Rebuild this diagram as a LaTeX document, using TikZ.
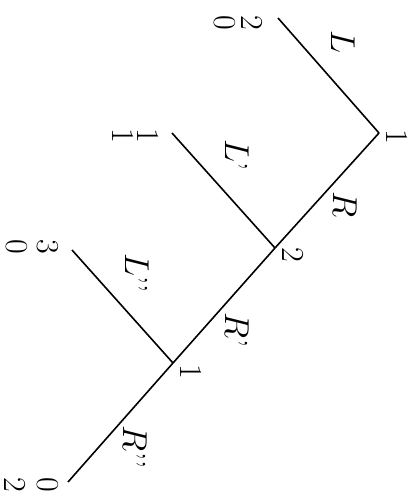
\documentclass[tikz,border=0pt]{standalone}
\usepackage{tikz}
\usetikzlibrary{positioning}

\begin{document}
\begin{tikzpicture}[x=0.5pt, y=-0.5pt, line width=0.8pt]
    \tikzstyle{txt} = [rotate=-90, inner sep=0pt, font=\fontsize{16}{18}\selectfont]
    \tikzstyle{branch} = [draw, line width=0.8pt]

    \useasboundingbox (0,0) rectangle (412,494);

    % decision points and leaves
    \coordinate (first) at (379,133);
    \coordinate (second) at (275,248);
    \coordinate (third) at (173,363);
    \coordinate (endL) at (278,18);
    \coordinate (endLp) at (172,133);
    \coordinate (endLpp) at (72,250);
    \coordinate (endRpp) at (68,482);

    \path [branch] (first) -- (endL);
    \path [branch] (first) -- (second);
    \path [branch] (second) -- (endLp);
    \path [branch] (second) -- (third);
    \path [branch] (third) -- (endLpp);
    \path [branch] (third) -- (endRpp);

    % players
    \node [txt] (pfirst) at (397,137) {1};
    \node [txt] (psecond) at (293,255) {2};
    \node [txt] (pthird) at (191,372) {1};

    % moves
    \node [txt] (mL) at (343,42) {$L$};
    \node [txt] (mR) at (345,205) {$R$};
    \node [txt] (mLp) at (237,155) {$L$'};
    \node [txt] (mRp) at (237,330) {$R$'};
    \node [txt] (mLpp) at (137,273) {$L$'{}'};
    \node [txt] (mRpp) at (135,447) {$R$'{}'};

    % payoffs
    \node [txt] (uL1) at (252,23) {2};
    \node [txt] (uL2) at (225,23) {0};
    \node [txt] (uLp1) at (148,136) {1};
    \node [txt] (uLp2) at (123,136) {1};
    \node [txt] (uLpp1) at (48,247) {3};
    \node [txt] (uLpp2) at (17,247) {0};
    \node [txt] (uRpp1) at (48,485) {0};
    \node [txt] (uRpp2) at (15,485) {2};
\end{tikzpicture}
\end{document}
